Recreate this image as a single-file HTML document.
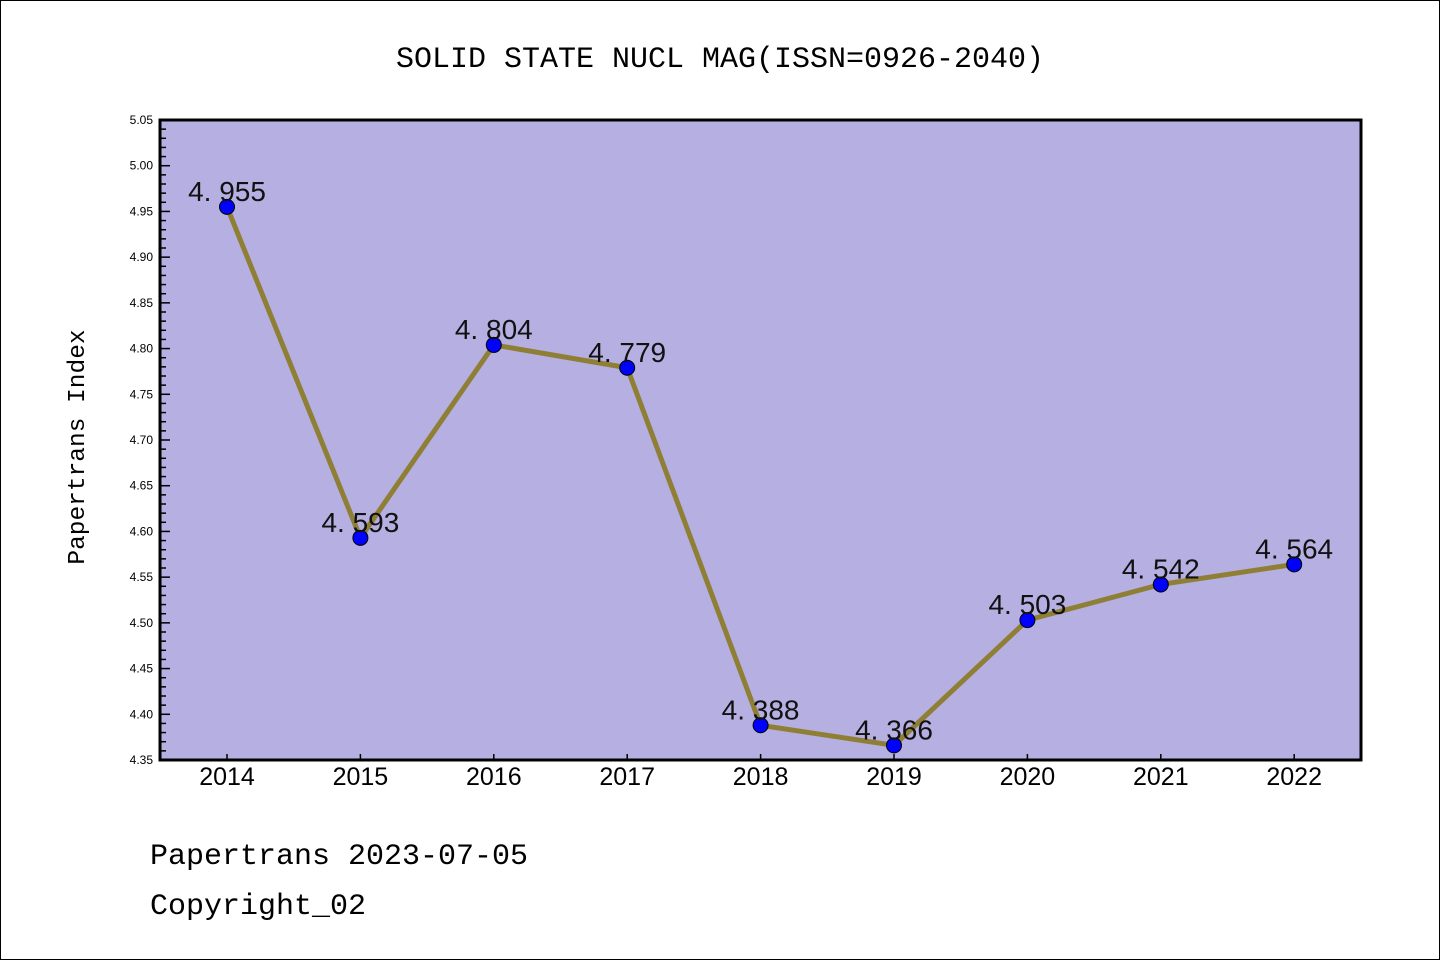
<!DOCTYPE html>
<html><head><meta charset="utf-8"><style>
body{margin:0;background:#fff}
svg{display:block}
text{font-family:"Liberation Mono","WenQuanYi Zen Hei",monospace}
text.s{font-family:"Liberation Sans","WenQuanYi Zen Hei",sans-serif}
</style></head><body>
<svg id="c" width="1440" height="960" xmlns="http://www.w3.org/2000/svg">
<rect x="0.5" y="0.5" width="1439" height="959" fill="#fff" stroke="#000"/>
<text x="720" y="67" text-anchor="middle" font-size="30">SOLID STATE NUCL MAG(ISSN=0926-2040)</text>
<rect x="160" y="120" width="1201" height="640" fill="#b5afe2"/>
<g id="ticks"></g>
<g id="series"></g>
<rect x="160" y="120" width="1201" height="640" fill="none" stroke="#000" stroke-width="3"/>
<text transform="translate(84,447) rotate(-90)" text-anchor="middle" font-size="24.5">Papertrans Index</text>
<text x="150" y="864" font-size="30">Papertrans 2023-07-05</text>
<text x="150" y="914" font-size="30">Copyright_02</text>
</svg>
<script>
const years=["2014","2015","2016","2017","2018","2019","2020","2021","2022"];
const values=[4.955,4.593,4.804,4.779,4.388,4.366,4.503,4.542,4.564];
const yTicks=["4.35","4.40","4.45","4.50","4.55","4.60","4.65","4.70","4.75","4.80","4.85","4.90","4.95","5.00","5.05"];
const NS="http://www.w3.org/2000/svg";
const yMin=4.35,yMax=5.05,plotTop=120,plotBot=760;
function y(v){return plotBot-(v-yMin)/(yMax-yMin)*(plotBot-plotTop);}
function x(i){return 227+i*133.4;}
function el(t,a,p){const e=document.createElementNS(NS,t);for(const k in a)e.setAttribute(k,a[k]);p.appendChild(e);return e;}
const tk=document.getElementById('ticks'),se=document.getElementById('series');
for(let k=0;k<=70;k++){const v=yMin+k*0.01;const yy=y(v);const major=k%5===0;
 const l=el('line',{x1:160,x2:major?170:166,y1:yy,y2:yy,stroke:'#000','stroke-width':1.5},tk);
 
 }
yTicks.forEach(s=>{const t=el('text',{x:153,y:y(parseFloat(s))+4,'text-anchor':'end','font-size':12,'class':'s'},tk);t.textContent=s;
 
 });
years.forEach((s,i)=>{const l=el('line',{x1:x(i),x2:x(i),y1:760,y2:754,stroke:'#000','stroke-width':1.5},tk);
 
 
 const t=el('text',{x:x(i),y:785,'text-anchor':'middle','font-size':25,'class':'s'},tk);t.textContent=s;
 
 });
const pl=el('polyline',{points:values.map((v,i)=>x(i)+','+y(v)).join(' '),fill:'none',stroke:'#8f7f35','stroke-width':5,'stroke-linejoin':'round'},se);


values.forEach((v,i)=>{const c=el('circle',{cx:x(i),cy:y(v),r:7.5,fill:'#0000ff',stroke:'#000','stroke-width':1},se);
 
 
 const t=el('text',{x:x(i),y:y(v)-6,'text-anchor':'middle','font-size':28,fill:'#111','class':'s'},se);t.textContent=v.toFixed(3).replace('.','. ');
 
 });
</script>
</body></html>
